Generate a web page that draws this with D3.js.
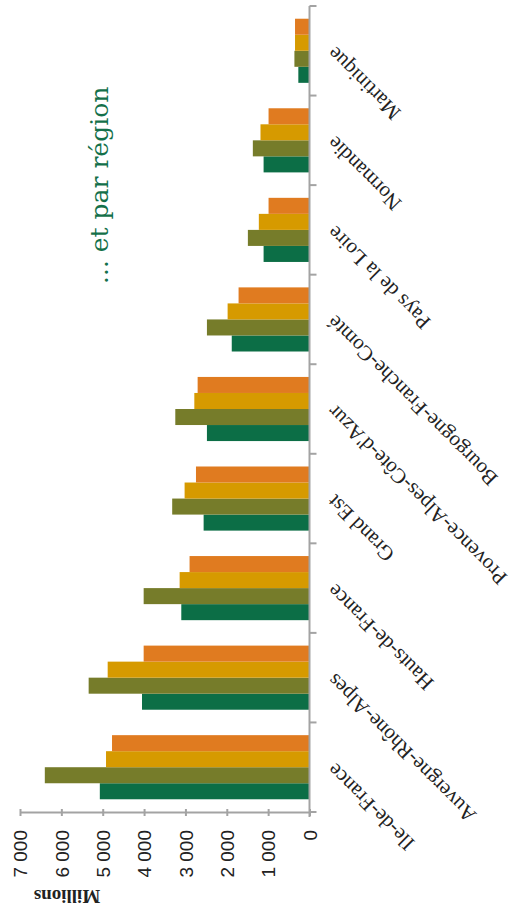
<!DOCTYPE html>
<html>
<head>
<meta charset="utf-8">
<script src="https://cdn.jsdelivr.net/npm/d3@7"></script>
<style>
  html, body { margin: 0; padding: 0; background: #ffffff; }
  svg { display: block; }
</style>
</head>
<body>
<script>
// ---- Data ----
const categories = ["Ile-de-France", "Auvergne-Rhône-Alpes", "Hauts-de-France", "Grand Est",
  "Provence-Alpes-Côte-d'Azur", "Bourgogne-Franche-Comté", "Pays de la Loire", "Normandie", "Martinique"];
const seriesNames = ["Série 1", "Série 2", "Série 3", "Série 4"];
const serie1 = [5070, 4050, 3100, 2560, 2480, 1880, 1110, 1110, 270];
const serie2 = [6400, 5340, 4010, 3320, 3245, 2480, 1490, 1370, 365];
const serie3 = [4920, 4880, 3140, 3020, 2785, 1980, 1225, 1185, 350];
const serie4 = [4775, 4010, 2900, 2745, 2705, 1715, 990, 990, 350];
const seriesValues = [serie1, serie2, serie3, serie4];
const seriesColors = ["#0c6e46", "#767c2a", "#d69a00", "#e07b20"];
const valueTicks = [0, 1000, 2000, 3000, 4000, 5000, 6000, 7000];
const titleText = "... et par région";
const axisTitle = "Millions";

// ---- Chart ----
const W = 514, H = 921;
const svg = d3.select("body").append("svg").attr("width", W).attr("height", H);

const x = d3.scaleLinear().domain([0, 7000]).range([309.5, 20]);
const y = d3.scaleBand().domain(categories).range([812, 6]).paddingInner(0.284).paddingOuter(0.142);
const ySub = d3.scaleBand().domain(seriesNames).range([y.bandwidth(), 0]);

const axisColor = "#a3a3a3";

// Bars
const groups = svg.append("g").selectAll("g").data(categories).join("g")
  .attr("transform", c => `translate(0,${y(c)})`);
groups.selectAll("rect")
  .data((c, i) => seriesNames.map((s, j) => ({ s, v: seriesValues[j][i], color: seriesColors[j] })))
  .join("rect")
  .attr("x", d => x(d.v))
  .attr("y", d => ySub(d.s))
  .attr("width", d => x(0) - x(d.v))
  .attr("height", ySub.bandwidth())
  .attr("fill", d => d.color);

// Value axis (bottom)
const fmt = d3.formatLocale({ decimal: ",", thousands: "\u00a0", grouping: [3], currency: ["", "€"] }).format(",d");
const xAxis = svg.append("g")
  .attr("transform", `translate(0,${y.range()[0]})`)
  .call(d3.axisBottom(x).tickValues(valueTicks).tickFormat(fmt).tickSizeOuter(0).tickSizeInner(4));
xAxis.select(".domain").attr("stroke", axisColor).attr("stroke-width", 2);
xAxis.selectAll(".tick line").attr("stroke", axisColor).attr("stroke-width", 2).attr("y1", -3).attr("y2", 4);
xAxis.selectAll(".tick text")
  .attr("transform", "rotate(-90)")
  .attr("x", -18).attr("y", 0).attr("dy", "0.35em")
  .attr("text-anchor", "end")
  .attr("fill", "#222")
  .style("font-family", "'Liberation Sans', Arial, sans-serif")
  .style("font-size", "19px");

// Category axis (vertical line at value 0)
const step = y.step();
const boundaries = d3.range(categories.length + 1).map(i => y.range()[0] - i * step);
const catAxis = svg.append("g");
catAxis.append("line")
  .attr("x1", x(0)).attr("x2", x(0))
  .attr("y1", y.range()[1]).attr("y2", y.range()[0] + 5)
  .attr("stroke", axisColor).attr("stroke-width", 2);
catAxis.selectAll("line.tick").data(boundaries).join("line").attr("class", "tick")
  .attr("x1", x(0)).attr("x2", x(0) + 7)
  .attr("y1", d => d).attr("y2", d => d)
  .attr("stroke", axisColor).attr("stroke-width", 2);

// Category labels
const lx = x(0) + 21;
svg.append("g").selectAll("text").data(categories).join("text")
  .attr("x", lx)
  .attr("y", c => y(c) + y.bandwidth() / 2)
  .attr("dy", "0.35em")
  .attr("transform", c => `rotate(-135, ${lx}, ${y(c) + y.bandwidth() / 2})`)
  .attr("text-anchor", "end")
  .attr("fill", "#222")
  .style("font-family", "'Liberation Serif', 'Times New Roman', serif")
  .style("font-size", "21px")
  .text(c => c);

// Axis title "Millions"
svg.append("text")
  .attr("x", 67).attr("y", 897)
  .attr("dy", "0.35em")
  .attr("transform", "rotate(180, 67, 897)")
  .attr("text-anchor", "middle")
  .attr("fill", "#222")
  .style("font-family", "'Liberation Serif', serif")
  .style("font-weight", "bold")
  .style("font-size", "19px")
  .text(axisTitle);

// Title
svg.append("text")
  .attr("x", 0).attr("y", 0)
  .attr("transform", "translate(108,284) rotate(-90)")
  .attr("text-anchor", "start")
  .attr("fill", "#14704a")
  .style("font-family", "'DejaVu Serif', serif")
  .style("font-size", "25px")
  .text(titleText);
</script>
</body>
</html>
